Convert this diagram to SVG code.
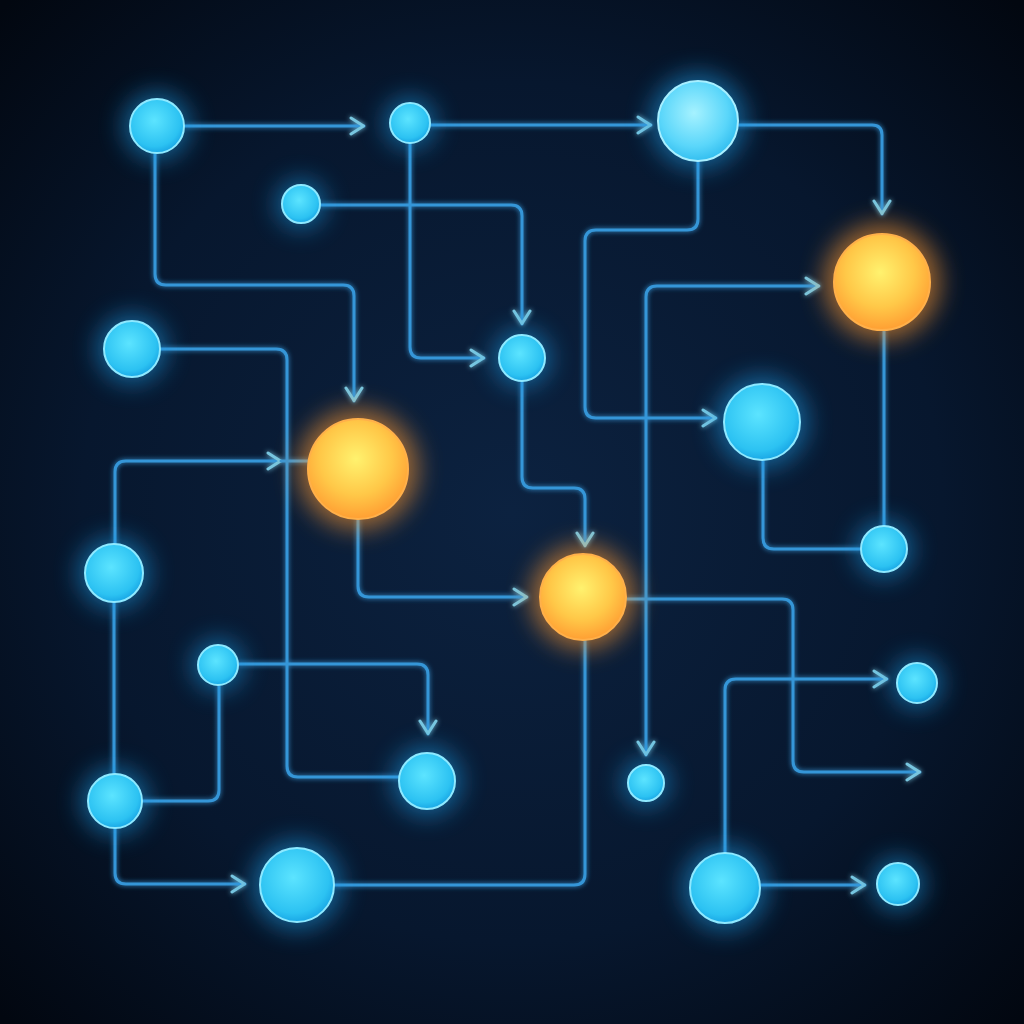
<svg xmlns="http://www.w3.org/2000/svg" width="1024" height="1024" viewBox="0 0 1024 1024">
<defs>
<radialGradient id="bg" cx="50%" cy="50%" r="70%">
<stop offset="0" stop-color="#0c2240"/>
<stop offset="0.6" stop-color="#07172e"/>
<stop offset="1" stop-color="#020710"/>
</radialGradient>
<radialGradient id="gBlue" cx="45%" cy="40%" r="60%">
<stop offset="0" stop-color="#5ce4ff"/>
<stop offset="0.8" stop-color="#2cc2f2"/>
<stop offset="1" stop-color="#1aa8e6"/>
</radialGradient>
<radialGradient id="gLight" cx="45%" cy="40%" r="60%">
<stop offset="0" stop-color="#a6f2ff"/>
<stop offset="0.7" stop-color="#5ad6fa"/>
<stop offset="1" stop-color="#34bff0"/>
</radialGradient>
<radialGradient id="gOrange" cx="48%" cy="40%" r="60%">
<stop offset="0" stop-color="#fff26e"/>
<stop offset="0.6" stop-color="#ffc848"/>
<stop offset="1" stop-color="#ff9f33"/>
</radialGradient>
<filter id="glow" x="-100%" y="-100%" width="300%" height="300%">
<feGaussianBlur stdDeviation="12"/>
</filter>
<filter id="lineGlow" x="-10%" y="-10%" width="120%" height="120%">
<feGaussianBlur in="SourceGraphic" stdDeviation="2.5" result="b"/>
<feMerge><feMergeNode in="b"/><feMergeNode in="SourceGraphic"/></feMerge>
</filter>
<marker id="arr" viewBox="0 0 16 20" refX="15" refY="10" markerWidth="16" markerHeight="20" markerUnits="userSpaceOnUse" orient="auto-start-reverse">
<path d="M2,2 L14.5,10 L2,18" fill="none" stroke="#78c6e0" stroke-width="3" stroke-linecap="round" stroke-linejoin="round"/>
</marker>
</defs>
<style>
.c{fill:none;stroke:#3596d8;stroke-width:3;stroke-linecap:round;stroke-linejoin:round}
.a{marker-end:url(#arr)}
.haloB{fill:#1e9ee8;opacity:0.55}
.haloO{fill:#ff9a30;opacity:0.6}
.nb{fill:url(#gBlue);stroke:#8ee9ff;stroke-width:2}
.nl{fill:url(#gLight);stroke:#a8efff;stroke-width:2}
.no{fill:url(#gOrange);stroke:#ffb04a;stroke-width:2}
</style>
<rect width="1024" height="1024" fill="url(#bg)"/>
<g id="connectors" filter="url(#lineGlow)">
<path class="c a" d="M185,126 H364"/>
<path class="c a" d="M430,125 H651"/>
<path class="c a" d="M738,125 H872 Q882,125 882,135 V214"/>
<path class="c a" d="M155,153 V274 Q155,285 166,285 H343 Q354,285 354,296 V401"/>
<path class="c a" d="M320,205 H511 Q522,205 522,216 V324"/>
<path class="c a" d="M410,143 V347 Q410,358 421,358 H484"/>
<path class="c a" d="M698,161 V219 Q698,230 687,230 H596 Q585,230 585,241 V407 Q585,418 596,418 H716"/>
<path class="c" d="M160,349 H276 Q287,349 287,360 V766 Q287,777 298,777 H399"/>
<path class="c a" d="M115,545 V472 Q115,461 126,461 H281"/>
<path class="c" d="M281,461 H309"/>
<path class="c a" d="M358,519 V586 Q358,597 369,597 H527"/>
<path class="c a" d="M522,381 V477 Q522,488 533,488 H574 Q585,488 585,499 V546"/>
<path class="c a" d="M646,755 V297 Q646,286 657,286 H819" style="marker-start:url(#arr)"/>
<path class="c a" d="M626,599 H782 Q793,599 793,610 V761 Q793,772 804,772 H920"/>
<path class="c" d="M884,330 V527"/>
<path class="c" d="M763,460 V538 Q763,549 774,549 H861"/>
<path class="c a" d="M238,664 H417 Q428,664 428,675 V734"/>
<path class="c" d="M142,801 H208 Q219,801 219,790 V685"/>
<path class="c" d="M114,602 V774"/>
<path class="c a" d="M115,828 V873 Q115,884 126,884 H245"/>
<path class="c" d="M334,885 H574 Q585,885 585,874 V640"/>
<path class="c a" d="M725,853 V690 Q725,679 736,679 H887"/>
<path class="c a" d="M760,885 H865"/>
</g>
<g id="n1"><circle class="haloB" cx="157" cy="126" r="34" filter="url(#glow)"/><circle class="nb" cx="157" cy="126" r="27"/></g>
<g id="n2"><circle class="haloB" cx="410" cy="123" r="26" filter="url(#glow)"/><circle class="nb" cx="410" cy="123" r="20"/></g>
<g id="n3"><circle class="haloB" cx="698" cy="121" r="48" filter="url(#glow)"/><circle class="nl" cx="698" cy="121" r="40"/></g>
<g id="n4"><circle class="haloB" cx="301" cy="204" r="25" filter="url(#glow)"/><circle class="nb" cx="301" cy="204" r="19"/></g>
<g id="n5"><circle class="haloO" cx="882" cy="282" r="58" filter="url(#glow)"/><circle class="no" cx="882" cy="282" r="48"/></g>
<g id="n6"><circle class="haloB" cx="132" cy="349" r="35" filter="url(#glow)"/><circle class="nb" cx="132" cy="349" r="28"/></g>
<g id="n7"><circle class="haloB" cx="522" cy="358" r="29" filter="url(#glow)"/><circle class="nb" cx="522" cy="358" r="23"/></g>
<g id="n8"><circle class="haloB" cx="762" cy="422" r="46" filter="url(#glow)"/><circle class="nb" cx="762" cy="422" r="38"/></g>
<g id="n9"><circle class="haloO" cx="358" cy="469" r="60" filter="url(#glow)"/><circle class="no" cx="358" cy="469" r="50"/></g>
<g id="n10"><circle class="haloB" cx="114" cy="573" r="36" filter="url(#glow)"/><circle class="nb" cx="114" cy="573" r="29"/></g>
<g id="n11"><circle class="haloB" cx="884" cy="549" r="29" filter="url(#glow)"/><circle class="nb" cx="884" cy="549" r="23"/></g>
<g id="n12"><circle class="haloO" cx="583" cy="597" r="52" filter="url(#glow)"/><circle class="no" cx="583" cy="597" r="43"/></g>
<g id="n13"><circle class="haloB" cx="218" cy="665" r="26" filter="url(#glow)"/><circle class="nb" cx="218" cy="665" r="20"/></g>
<g id="n14"><circle class="haloB" cx="917" cy="683" r="26" filter="url(#glow)"/><circle class="nb" cx="917" cy="683" r="20"/></g>
<g id="n15"><circle class="haloB" cx="427" cy="781" r="35" filter="url(#glow)"/><circle class="nb" cx="427" cy="781" r="28"/></g>
<g id="n16"><circle class="haloB" cx="646" cy="783" r="24" filter="url(#glow)"/><circle class="nb" cx="646" cy="783" r="18"/></g>
<g id="n17"><circle class="haloB" cx="115" cy="801" r="34" filter="url(#glow)"/><circle class="nb" cx="115" cy="801" r="27"/></g>
<g id="n18"><circle class="haloB" cx="297" cy="885" r="45" filter="url(#glow)"/><circle class="nb" cx="297" cy="885" r="37"/></g>
<g id="n19"><circle class="haloB" cx="725" cy="888" r="43" filter="url(#glow)"/><circle class="nb" cx="725" cy="888" r="35"/></g>
<g id="n20"><circle class="haloB" cx="898" cy="884" r="27" filter="url(#glow)"/><circle class="nb" cx="898" cy="884" r="21"/></g>
</svg>
